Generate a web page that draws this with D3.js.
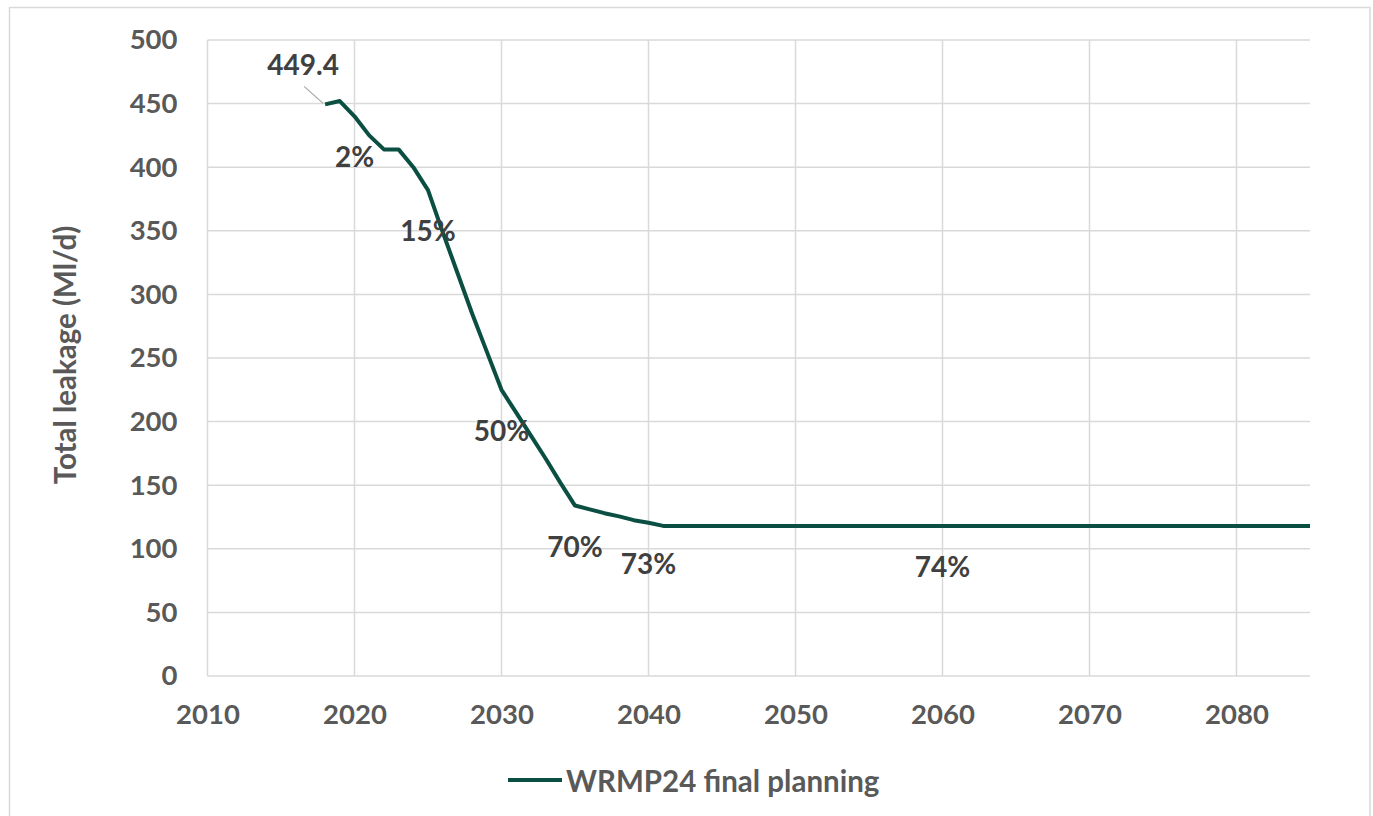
<!DOCTYPE html>
<html>
<head>
<meta charset="utf-8">
<script src="https://cdn.jsdelivr.net/npm/d3@7"></script>
<style>
  html, body { margin: 0; padding: 0; background: #ffffff; }
  svg { display: block; }
  text { font-family: Lato, "Open Sans", sans-serif; font-weight: 700; }
</style>
</head>
<body>
<svg id="chart" width="1373" height="816"></svg>
<script>
// Total leakage trajectory (Ml/d), one value per year
const years = d3.range(2018, 2086);
const leakage = [
  449.4, 452, 440, 425, 414, 414, 400, 382, 349, 317,
  285, 255, 225, 207, 189, 171, 152, 134, 131, 128,
  125.5, 122.5, 120.5, 118, 118, 118, 118, 118, 118, 118,
  118, 118, 118, 118, 118, 118, 118, 118, 118, 118,
  118, 118, 118, 118, 118, 118, 118, 118, 118, 118,
  118, 118, 118, 118, 118, 118, 118, 118, 118, 118,
  118, 118, 118, 118, 118, 118, 118, 118
];

// Reduction annotations attached to selected years
const labelYears = [2018, 2020, 2025, 2030, 2035, 2040, 2060];
const labelTexts = ["449.4", "2%", "15%", "50%", "70%", "73%", "74%"];

const xTicks = [2010, 2020, 2030, 2040, 2050, 2060, 2070, 2080];
const yTicks = [0, 50, 100, 150, 200, 250, 300, 350, 400, 450, 500];
const seriesName = "WRMP24 final planning";
const yTitle = "Total leakage (Ml/d)";

const svg = d3.select("#chart");
const plot = { left: 207.5, right: 1310, top: 40, bottom: 676 };

const x = d3.scaleLinear().domain([2010, 2085]).range([plot.left, plot.right]);
const y = d3.scaleLinear().domain([0, 500]).range([plot.bottom, plot.top]);

const grid = "#d9d9d9";
const tickColor = "#595959";
const labelColor = "#404040";
const lineColor = "#0b4f42";

// chart frame
svg.append("rect")
  .attr("x", 9.5).attr("y", 7.5)
  .attr("width", 1360.5).attr("height", 830)
  .attr("fill", "#ffffff").attr("stroke", grid).attr("stroke-width", 1.5);

// horizontal gridlines
svg.append("g").selectAll("line").data(yTicks).join("line")
  .attr("x1", plot.left).attr("x2", plot.right)
  .attr("y1", d => y(d)).attr("y2", d => y(d))
  .attr("stroke", grid).attr("stroke-width", 1.5);

// vertical gridlines
svg.append("g").selectAll("line").data(xTicks).join("line")
  .attr("x1", d => x(d)).attr("x2", d => x(d))
  .attr("y1", plot.top).attr("y2", plot.bottom)
  .attr("stroke", grid).attr("stroke-width", 1.5);

// y axis
const yAxis = svg.append("g")
  .attr("transform", `translate(${plot.left},0)`)
  .call(d3.axisLeft(y).tickValues(yTicks).tickSize(0).tickPadding(30).tickFormat(d3.format("d")));
yAxis.select(".domain").remove();
yAxis.selectAll("text").attr("fill", tickColor).style("font-size", "27.5px");

// x axis
const xAxis = svg.append("g")
  .attr("transform", `translate(0,${plot.bottom})`)
  .call(d3.axisBottom(x).tickValues(xTicks).tickSize(0).tickPadding(28).tickFormat(d3.format("d")));
xAxis.select(".domain").remove();
xAxis.selectAll("text").attr("fill", tickColor).style("font-size", "27.5px");

// y title
svg.append("text")
  .attr("transform", `translate(64,355) rotate(-90)`)
  .attr("text-anchor", "middle").attr("dominant-baseline", "central")
  .attr("fill", tickColor).style("font-size", "29.5px")
  .text(yTitle);

// series line
const pts = years.map((yr, i) => [yr, leakage[i]]);
svg.append("path")
  .datum(pts)
  .attr("fill", "none")
  .attr("stroke", lineColor)
  .attr("stroke-width", 4)
  .attr("stroke-linejoin", "round")
  .attr("d", d3.line().x(d => x(d[0])).y(d => y(d[1])));

// annotations, placed below their point; the first one is lifted with a leader line
const valueAt = yr => leakage[years.indexOf(yr)];
labelYears.forEach((yr, i) => {
  const px = x(yr), py = y(valueAt(yr));
  let lx = px, ly = py + 40;
  if (i === 0) {
    lx = px - 22; ly = py - 40;
    svg.append("line")
      .attr("x1", px - 21).attr("y1", py - 18)
      .attr("x2", px - 2).attr("y2", py - 1)
      .attr("stroke", "#a6a6a6").attr("stroke-width", 1.2);
  }
  svg.append("text")
    .attr("x", lx).attr("y", ly)
    .attr("text-anchor", "middle").attr("dominant-baseline", "central")
    .attr("fill", labelColor).style("font-size", "28px")
    .text(labelTexts[i]);
});

// legend
const lg = svg.append("g").attr("transform", "translate(508,780)");
lg.append("line").attr("x1", 0).attr("x2", 54).attr("y1", 0).attr("y2", 0)
  .attr("stroke", lineColor).attr("stroke-width", 4);
lg.append("text").attr("x", 58).attr("y", 0)
  .attr("dominant-baseline", "central")
  .attr("fill", tickColor).style("font-size", "29.5px")
  .text(seriesName);
</script>
</body>
</html>
